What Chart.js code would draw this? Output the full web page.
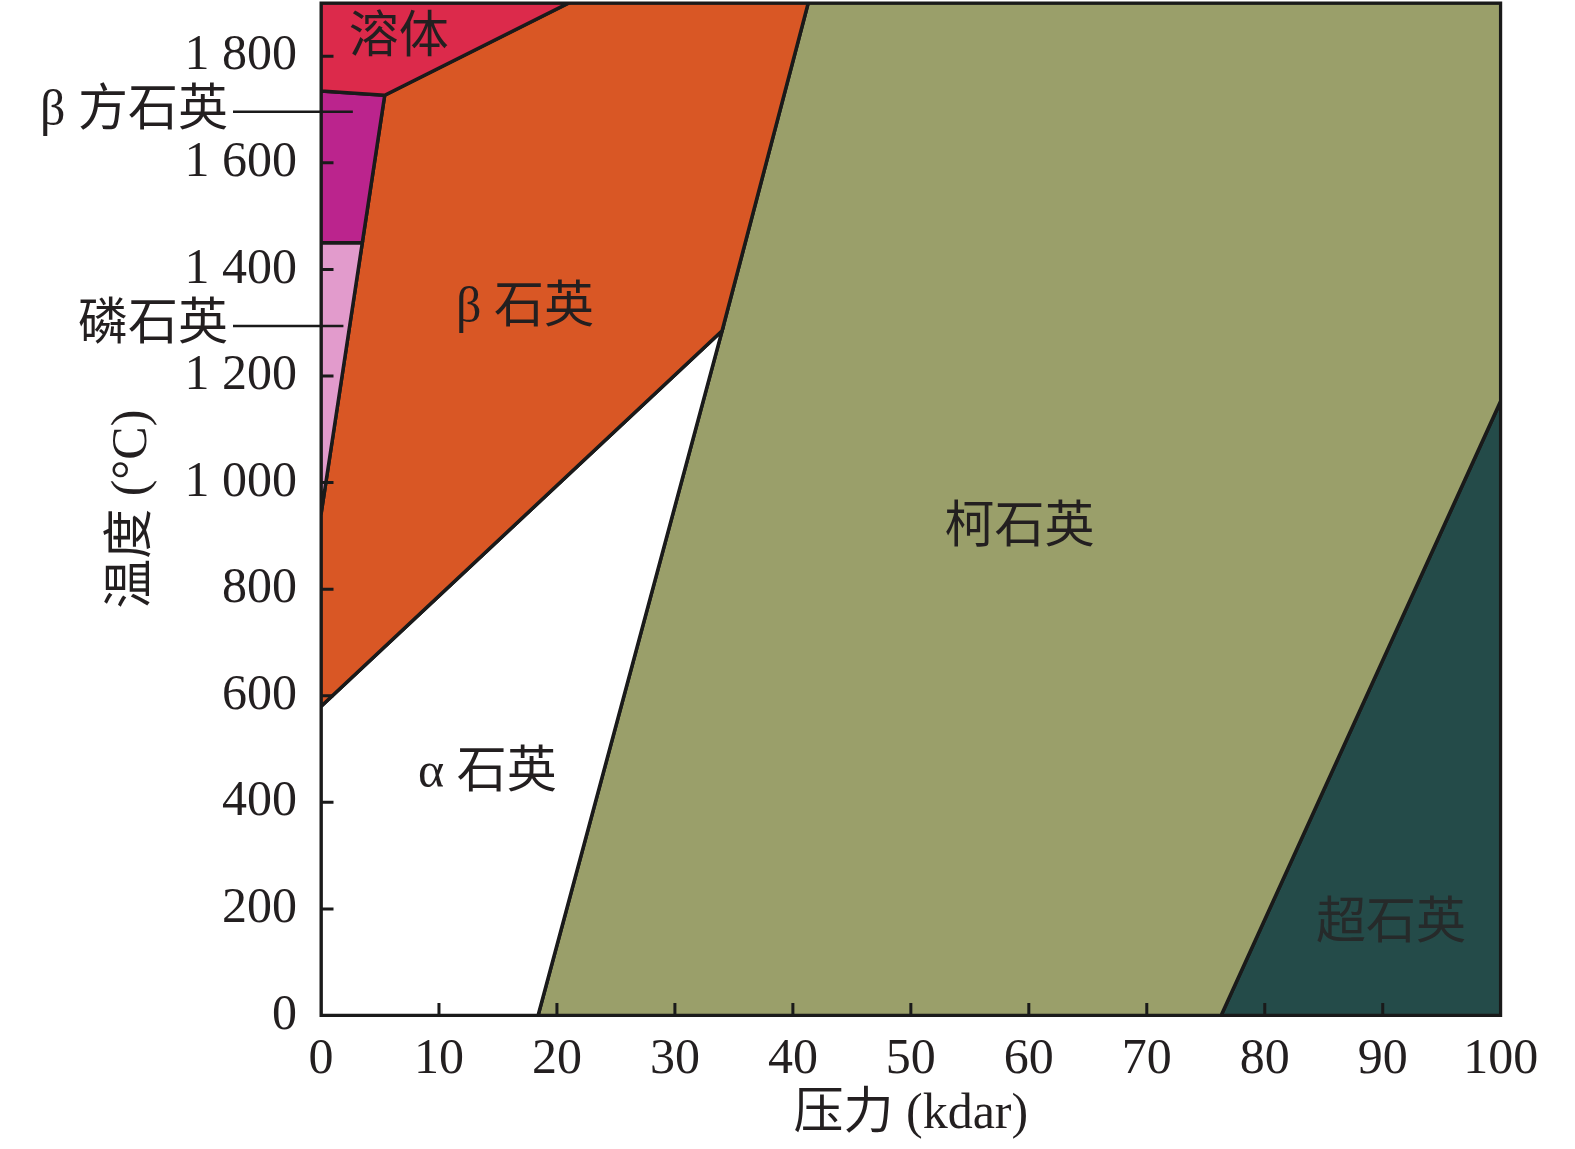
<!DOCTYPE html>
<html>
<head>
<meta charset="utf-8">
<script src="https://cdn.jsdelivr.net/npm/chart.js@4.4.1/dist/chart.umd.min.js"></script>
<style>
  html, body { margin: 0; padding: 0; background: #fff; }
  #wrap { width: 1575px; height: 1149px; }
</style>
</head>
<body>
<div id="wrap"><canvas id="c" width="1575" height="1149"></canvas></div>
<script>
// ---- Data (pressure in kbar, temperature in °C) ----
const xTicks = [0, 10, 20, 30, 40, 50, 60, 70, 80, 90, 100];
const yTicks = [0, 200, 400, 600, 800, 1000, 1200, 1400, 1600, 1800];

const meltP = [0, 21, 5.4, 0, 0];
const meltT = [1900, 1900, 1727, 1735, 1900];

const cristobaliteP = [0, 5.4, 3.5, 0, 0];
const cristobaliteT = [1735, 1727, 1450, 1450, 1735];

const tridymiteP = [0, 3.5, 0, 0];
const tridymiteT = [1450, 1450, 940, 1450];

const betaQuartzP = [0, 5.4, 21, 41.3, 34, 0, 0];
const betaQuartzT = [940, 1727, 1900, 1900, 1285, 580, 940];

const alphaQuartzP = [0, 34, 18.4, 0, 0];
const alphaQuartzT = [580, 1285, 0, 0, 580];

const coesiteP = [18.4, 34, 41.3, 100, 100, 76.3, 18.4];
const coesiteT = [0, 1285, 1900, 1900, 1153, 0, 0];

const stishoviteP = [76.3, 100, 100, 76.3];
const stishoviteT = [0, 1153, 0, 0];

// in-plot labels
const labelText = ['溶体', 'β 石英', 'α 石英', '柯石英', '超石英'];
const labelP = [6.6, 17.3, 14.1, 59.2, 90.7];
const labelT = [1833, 1326, 453, 913, 171];

// leader-line labels (outside the plot on the left)
const leaderText = ['β 方石英', '磷石英'];
const leaderP = [2.7, 1.9];
const leaderT = [1696, 1294];

const toPts = (xs, ys) => xs.map((x, i) => ({ x: x, y: ys[i] }));

function region(label, xs, ys, color) {
  return {
    label: label,
    data: toPts(xs, ys),
    showLine: true,
    fill: 'shape',
    backgroundColor: color,
    borderColor: '#1a1a1a',
    borderWidth: 3.5,
    pointRadius: 0,
    tension: 0,
    borderJoinStyle: 'miter'
  };
}

const SERIF = "'Liberation Serif', 'Times New Roman', 'Noto Sans CJK SC', serif";
const CJK = "'Liberation Serif', 'Noto Sans CJK SC', serif";

const decor = {
  id: 'decor',
  afterDatasetsDraw(chart) {
    const { ctx, chartArea: a, scales: { x, y } } = chart;
    ctx.save();
    // inward tick marks
    ctx.strokeStyle = '#1a1a1a';
    ctx.lineWidth = 3;
    ctx.beginPath();
    yTicks.forEach(v => {
      if (v === 0) return;
      const py = y.getPixelForValue(v);
      ctx.moveTo(a.left, py); ctx.lineTo(a.left + 12.5, py);
    });
    xTicks.forEach(v => {
      if (v === 0 || v === 100) return;
      const px = x.getPixelForValue(v);
      ctx.moveTo(px, a.bottom); ctx.lineTo(px, a.bottom - 12.5);
    });
    ctx.stroke();
    // frame
    ctx.lineWidth = 3;
    ctx.strokeRect(a.left, a.top, a.right - a.left, a.bottom - a.top);

    // in-plot labels
    ctx.font = '50px ' + CJK;
    ctx.textAlign = 'center';
    ctx.textBaseline = 'middle';
    labelText.forEach((t, i) => {
      ctx.fillStyle = (i === 4) ? '#262a2a' : '#231f20';
      ctx.fillText(t, x.getPixelForValue(labelP[i]), y.getPixelForValue(labelT[i]));
    });

    // leader labels
    ctx.fillStyle = '#231f20';
    ctx.textAlign = 'right';
    leaderText.forEach((t, i) => {
      const py = y.getPixelForValue(leaderT[i]);
      const startX = a.left - 88;
      ctx.fillText(t, startX - 5, py);
      ctx.beginPath();
      ctx.lineWidth = 2.5;
      ctx.moveTo(startX, py);
      ctx.lineTo(x.getPixelForValue(leaderP[i]), py);
      ctx.stroke();
    });
    ctx.restore();
  }
};

new Chart(document.getElementById('c'), {
  type: 'scatter',
  data: {
    datasets: [
      region('溶体', meltP, meltT, '#dc2a4b'),
      region('β 方石英', cristobaliteP, cristobaliteT, '#bb248d'),
      region('磷石英', tridymiteP, tridymiteT, '#e29bcc'),
      region('β 石英', betaQuartzP, betaQuartzT, '#d95725'),
      region('α 石英', alphaQuartzP, alphaQuartzT, '#ffffff'),
      region('柯石英', coesiteP, coesiteT, '#9a9f6a'),
      region('超石英', stishoviteP, stishoviteT, '#244b49')
    ]
  },
  options: {
    responsive: false,
    animation: false,
    layout: { padding: { top: 3, right: 74.3, left: 0, bottom: 0 } },
    plugins: {
      legend: { display: false },
      tooltip: { enabled: false }
    },
    scales: {
      x: {
        type: 'linear',
        min: 0, max: 100,
        afterFit(s) { s.height = 133.5; s.paddingLeft = 0; s.paddingRight = 0; },
        afterBuildTicks(s) { s.ticks = xTicks.map(v => ({ value: v })); },
        grid: { display: true, drawOnChartArea: false, drawTicks: false },
        border: { display: true, color: '#1a1a1a', width: 3 },
        ticks: {
          padding: 14,
          color: '#231f20',
          font: { family: SERIF, size: 50 },
          maxRotation: 0,
          autoSkip: false
        },
        title: {
          display: true,
          text: '压力 (kdar)',
          color: '#231f20',
          font: { family: CJK, size: 50 },
          padding: { top: 0, bottom: 4 }
        }
      },
      y: {
        type: 'linear',
        min: 0, max: 1900,
        afterFit(s) { s.width = 321; s.paddingTop = 0; s.paddingBottom = 0; },
        afterBuildTicks(s) { s.ticks = yTicks.map(v => ({ value: v })); },
        grid: { display: true, drawOnChartArea: false, drawTicks: false },
        border: { display: true, color: '#1a1a1a', width: 3 },
        ticks: {
          padding: 24,
          color: '#231f20',
          font: { family: SERIF, size: 50 },
          autoSkip: false,
          callback(v) {
            return v >= 1000 ? Math.floor(v / 1000) + ' ' + String(v % 1000).padStart(3, '0') : String(v);
          }
        },
        title: {
          display: true,
          text: '温度 (°C)',
          color: '#231f20',
          font: { family: CJK, size: 50 },
          padding: { top: 103, bottom: 0 }
        }
      }
    }
  },
  plugins: [decor]
});
</script>
</body>
</html>
